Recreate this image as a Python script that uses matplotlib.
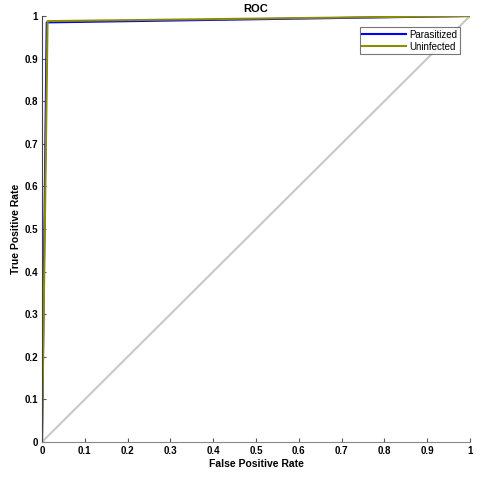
import matplotlib
matplotlib.use("Agg")
import matplotlib.pyplot as plt
import numpy as np

fpr_parasitized = [0.0, 0.011, 1.0]
tpr_parasitized = [0.0, 0.985, 1.0]
fpr_uninfected = [0.0, 0.013, 1.0]
tpr_uninfected = [0.0, 0.988, 1.0]
ticks = [0, 0.1, 0.2, 0.3, 0.4, 0.5, 0.6, 0.7, 0.8, 0.9, 1]
tick_labels = ["0", "0.1", "0.2", "0.3", "0.4", "0.5", "0.6", "0.7", "0.8", "0.9", "1"]

plt.rcParams['font.family'] = ['Liberation Sans', 'DejaVu Sans']
fig = plt.figure(figsize=(4.8, 4.78), dpi=100)
ax = fig.add_axes([0.0875, 0.0753, 0.8915, 0.8912])
ax.plot([0, 1], [0, 1], color='#c8c8c8', lw=1.5)
ax.plot(fpr_parasitized, tpr_parasitized, color='#0000ff', lw=1.5, label='Parasitized')
ax.plot(fpr_uninfected, tpr_uninfected, color='#8c8c00', lw=1.5, label='Uninfected')
ax.set_xlim(0, 1)
ax.set_ylim(0, 1)
ax.set_xticks(ticks)
ax.set_xticklabels(tick_labels, fontweight='bold', fontsize=7)
ax.set_yticks(ticks)
ax.set_yticklabels(tick_labels, fontweight='bold', fontsize=7)
ax.tick_params(direction='in', length=3, width=0.8, colors='#555555', labelcolor='black', pad=3)
for s in ['top', 'right']:
    ax.spines[s].set_visible(False)
ax.spines['left'].set_color('#444444')
ax.spines['bottom'].set_color('#888888')
ax.set_xlabel('False Positive Rate', fontweight='bold', fontsize=7.5, labelpad=2)
ax.set_ylabel('True Positive Rate', fontweight='bold', fontsize=7.5, labelpad=2)
ax.set_title('ROC', fontweight='bold', fontsize=8, pad=3)
leg = ax.legend(loc='upper right', bbox_to_anchor=(0.977, 0.975), fontsize=7, frameon=True,
                fancybox=False, handlelength=4.5, handletextpad=0.3, borderpad=0.3,
                labelspacing=0.2, borderaxespad=0)
leg.get_frame().set_edgecolor('#555555')
leg.get_frame().set_linewidth(0.8)
fig.savefig('out.png', dpi=100)
